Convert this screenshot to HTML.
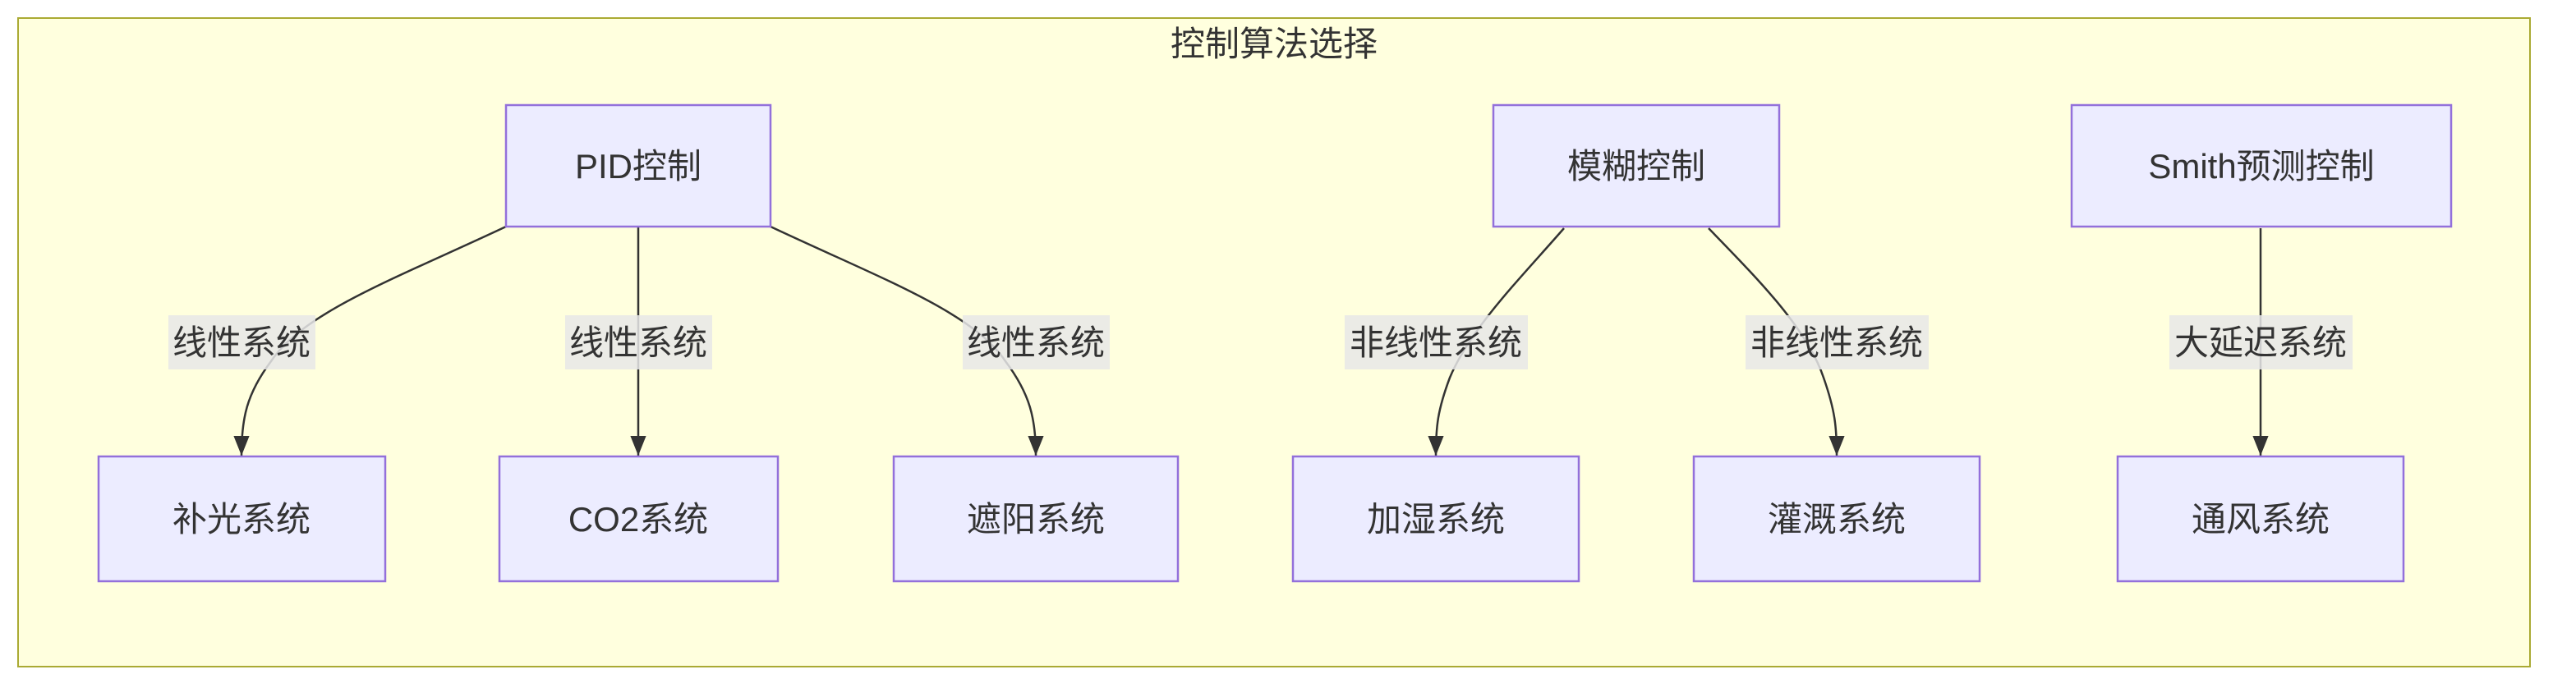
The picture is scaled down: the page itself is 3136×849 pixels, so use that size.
<!DOCTYPE html>
<html><head><meta charset="utf-8"><style>
html,body{margin:0;padding:0;background:#fff;}
svg text{font-family:"Liberation Sans","Noto Sans CJK SC",sans-serif;fill:#333;}
</style></head><body>
<svg width="3136" height="844" viewBox="0 0 3136 844" xmlns="http://www.w3.org/2000/svg">
<defs><marker id="a" viewBox="0 0 10 10" refX="9" refY="5" markerWidth="8" markerHeight="8" markerUnits="userSpaceOnUse" orient="auto"><path d="M0,0L10,5L0,10z" fill="#333"/></marker>
<marker id="b" viewBox="0 0 10 10" refX="10" refY="5" markerWidth="24" markerHeight="24" markerUnits="userSpaceOnUse" orient="auto"><path d="M0,1L10,5L0,9z" fill="#333"/></marker></defs>
<rect x="22" y="22" width="3058" height="790" fill="#FFFFDE" stroke="#AAAA33" stroke-width="2"/>
<text x="1551" y="68" font-size="42" text-anchor="middle">控制算法选择</text>
<g fill="none" stroke="#333" stroke-width="2.5" marker-end="url(#b)">
<path d="M616,276 C480,340 370,380 330,440 C300,480 294,510 294,555"/>
<path d="M777,276 L777,555"/>
<path d="M938,276 C1074,340 1184,380 1224,440 C1254,480 1261,510 1261,555"/>
<path d="M1904,278 C1850,340 1790,400 1765,460 C1750,500 1748,520 1748,555"/>
<path d="M2080,278 C2140,340 2200,400 2220,460 C2234,500 2236,520 2236,555"/>
<path d="M2752,278 L2752,555"/>
</g>
<g fill="#E8E8E8" fill-opacity="0.85">
<rect x="205" y="384" width="179" height="66"/>
<rect x="688" y="384" width="179" height="66"/>
<rect x="1172" y="384" width="179" height="66"/>
<rect x="1637" y="384" width="223" height="66"/>
<rect x="2125" y="384" width="223" height="66"/>
<rect x="2641" y="384" width="223" height="66"/>
</g>
<g font-size="42" text-anchor="middle">
<text x="294" y="432">线性系统</text>
<text x="777" y="432">线性系统</text>
<text x="1261" y="432">线性系统</text>
<text x="1748" y="432">非线性系统</text>
<text x="2236" y="432">非线性系统</text>
<text x="2752" y="432">大延迟系统</text>
</g>
<g fill="#ECECFF" stroke="#9370DB" stroke-width="2.5">
<rect x="616" y="128" width="322" height="148"/>
<rect x="1818" y="128" width="348" height="148"/>
<rect x="2522" y="128" width="462" height="148"/>
<rect x="120" y="556" width="349" height="152"/>
<rect x="608" y="556" width="339" height="152"/>
<rect x="1088" y="556" width="346" height="152"/>
<rect x="1574" y="556" width="348" height="152"/>
<rect x="2062" y="556" width="348" height="152"/>
<rect x="2578" y="556" width="348" height="152"/>
</g>
<g font-size="42" text-anchor="middle">
<text x="777" y="217">PID控制</text>
<text x="1992" y="217">模糊控制</text>
<text x="2753" y="217">Smith预测控制</text>
<text x="294" y="647">补光系统</text>
<text x="777" y="647">CO2系统</text>
<text x="1261" y="647">遮阳系统</text>
<text x="1748" y="647">加湿系统</text>
<text x="2236" y="647">灌溉系统</text>
<text x="2752" y="647">通风系统</text>
</g>
</svg>
</body></html>
